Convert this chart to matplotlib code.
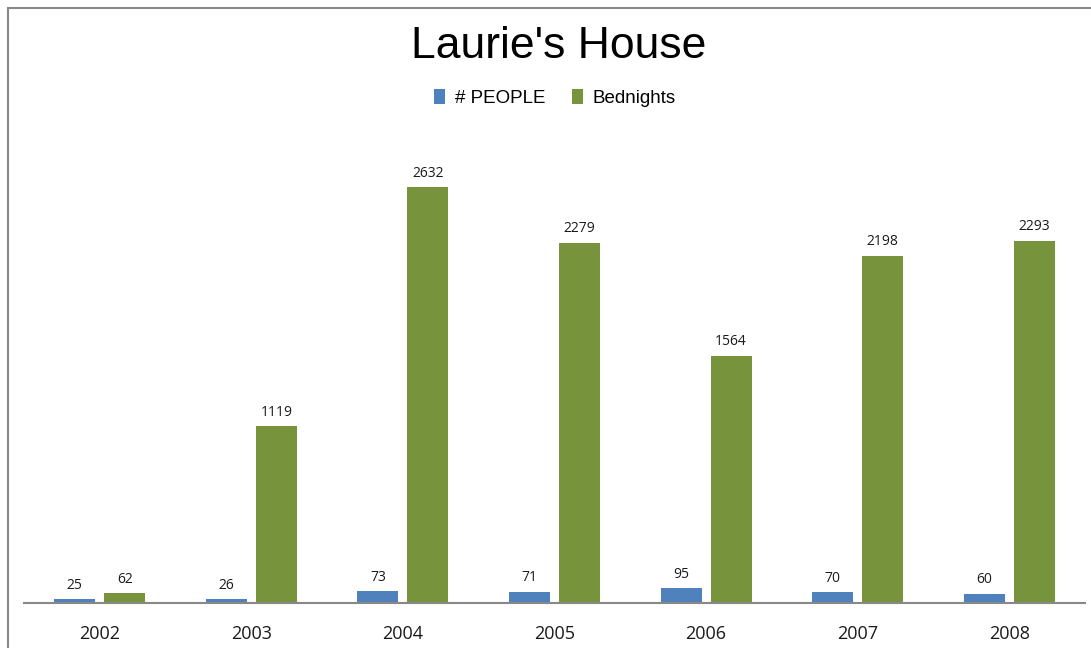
import matplotlib
matplotlib.use("Agg")
from matplotlib import pyplot as plt
from matplotlib.patches import Rectangle
import numpy as np

years = ["2002", "2003", "2004", "2005", "2006", "2007", "2008"]
people = [25, 26, 73, 71, 95, 70, 60]
bednights = [62, 1119, 2632, 2279, 1564, 2198, 2293]

BLUE = "#4F81BD"
GREEN = "#77933C"
W, H = 1091, 648
NARROW = ["Liberation Sans Narrow", "Liberation Sans", "DejaVu Sans"]

fig = plt.figure(figsize=(W / 100, H / 100), dpi=100)
fig.patch.set_facecolor("white")

# outer chart border (cut off on right/bottom in the reference)
fig.add_artist(Rectangle((8 / W, -0.1), 1.2, 1 - 8 / H + 0.1,
                         transform=fig.transFigure, fill=False,
                         edgecolor="#888888", linewidth=1.5))

left, right, bottom, top = 24, 1085, 603, 130
ax = fig.add_axes((left / W, 1 - bottom / H, (right - left) / W, (bottom - top) / H))
ymax = 2632 * (bottom - top) / (603 - 187)
ax.set_ylim(0, ymax)
ax.set_xlim(-0.5, len(years) - 0.5)

x = np.arange(len(years))
bw, off = 0.27, 0.165
b1 = ax.bar(x - off, people, bw, color=BLUE, label="# PEOPLE")
b2 = ax.bar(x + off, bednights, bw, color=GREEN, label="Bednights")
for bars, vals in ((b1, people), (b2, bednights)):
    for r, v in zip(bars, vals):
        ax.text(r.get_x() + r.get_width() / 2, v + 40, str(v), ha="center",
                va="bottom", fontsize=10, color="#1a1a1a", family="Open Sans")

for s in ("top", "right", "left"):
    ax.spines[s].set_visible(False)
ax.spines["bottom"].set_color("#888888")
ax.spines["bottom"].set_linewidth(1.5)
ax.set_yticks([])
ax.set_xticks(x)
ax.set_xticklabels(years, fontsize=13, color="#1a1a1a", family="Open Sans")
ax.tick_params(axis="x", length=0, pad=16)

fig.text(559 / W, 1 - 47 / H, "Laurie's House", ha="center", va="center",
         fontsize=32, family=NARROW)
fig.legend(handles=[b1, b2], loc="center", bbox_to_anchor=(0.5085, 1 - 98 / H),
           ncol=2, frameon=False, handlelength=0.6,
           handleheight=0.9, handletextpad=0.5, columnspacing=1.4,
           prop={"family": NARROW, "size": 13.5})

fig.savefig("out.png", dpi=100, facecolor="white")
